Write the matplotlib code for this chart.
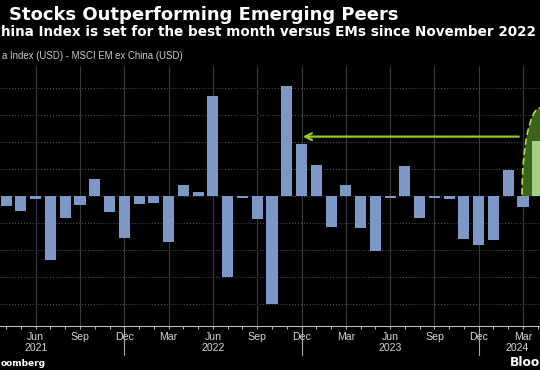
import matplotlib
matplotlib.use("Agg")
import matplotlib.pyplot as plt
import matplotlib.patches as patches
import matplotlib.transforms as mtransforms
import numpy as np
import pandas as pd

# MSCI China Index (USD) minus MSCI EM ex China (USD), monthly, %
months = pd.period_range("2021-04", "2024-03", freq="M")
spread = [-1.8, -2.7, -0.6, -11.8, -4.0, -1.7, 3.2, -2.9, -7.7, -1.4, -1.2, -8.5,
          2.1, 0.7, 18.5, -14.9, -0.4, -4.3, -20.0, 20.3, 9.6, 5.7, -5.8, 2.1,
          -6.0, -10.2, -0.3, 5.5, -4.1, -0.3, -0.6, -7.9, -9.0, -8.2, 4.9, -2.1]
current_month = pd.Period("2024-04", freq="M")
current_spread = 10.2
years = ["2021", "2022", "2023", "2024"]
year_pos = [2, 14, 26, 34.6]          # where each year label sits (bar index)
best_since_level = 11.0               # level of the "best since" arrow
best_since_idx = 19.9                 # arrow tip (Dec 2022 bar)

BAR = "#7d98c4"
LIGHT_GREEN = "#a3cf86"
DARK_GREEN = "#3a6419"
ARROW = "#96c828"
TXT = "#d6d6d6"

W, H = 540, 370
fig = plt.figure(figsize=(W / 100, H / 100), dpi=100, facecolor="black")
ax = fig.add_axes([0, (H - 325.7) / H, 1, (325.7 - 66.4) / H])
ax.set_facecolor("black")

x = np.arange(len(spread))
x_cur = len(spread)

# highlight behind current month
ell = patches.Ellipse((36.15, 0), 2.44, 32.6, facecolor=DARK_GREEN,
                      edgecolor="#b8d84a", ls=(0, (4, 2)), lw=1.2, zorder=2)
clip = patches.Rectangle((30, 0), 10, 40, transform=ax.transData)
ax.add_patch(ell)
ell.set_clip_path(clip)

ax.bar(x, spread, width=0.75, color=BAR, zorder=3)
ax.bar([x_cur], [current_spread], width=0.75, color=LIGHT_GREEN, zorder=3)

ax.annotate("", xy=(best_since_idx, best_since_level),
            xytext=(34.9, best_since_level),
            arrowprops=dict(arrowstyle="->", color=ARROW, lw=1.6,
                            mutation_scale=12), zorder=4)

ax.set_xlim(-0.418, 36.15)
ax.set_ylim(-24, 24)

# grid
for yv in range(-20, 25, 5):
    ax.axhline(yv, color="#5a5a5a", lw=0.7, ls=(0, (1, 2)), zorder=1)
major = [i for i, m in enumerate(months) if m.month in (3, 6, 9, 12)]
for i in major:
    ax.axvline(i, color="#3a3a3a", lw=0.8, zorder=1)

ax.set_xticks(major)
ax.set_xticklabels([months[i].strftime("%b") for i in major],
                   fontfamily="Liberation Sans", fontsize=7.6, color=TXT)
ax.set_xticks(np.arange(len(spread) + 1), minor=True)
ax.tick_params(axis="x", which="both", colors="#bbbbbb", length=2.5, width=0.7, pad=2)
for lab in ax.get_xticklabels():
    lab.set_color(TXT)
ax.set_yticks([])
for s in ["top", "left", "right"]:
    ax.spines[s].set_visible(False)
ax.spines["bottom"].set_color("#bbbbbb")
ax.spines["bottom"].set_linewidth(0.8)

# year separators and year labels
trans = mtransforms.blended_transform_factory(ax.transData, ax.transAxes)
axh = 325.7 - 66.4
for i, m in enumerate(months):
    if m.month == 12:
        ax.plot([i, i], [0, -(355 - 325.7) / axh], transform=trans,
                color="#aaaaaa", lw=0.8, clip_on=False)
for yr, xp in zip(years, year_pos):
    ax.text(xp, -(348 - 325.7) / axh, yr, transform=trans, ha="center", va="center",
            fontfamily="Liberation Sans", fontsize=7.6, color=TXT)


def fx(px):
    return px / W


def fy(py):
    return 1 - py / H


# texts as they show in the cropped picture
fig.text(fx(9), fy(19.5), "Stocks Outperforming Emerging Peers", ha="left",
         va="baseline", fontsize=13, fontweight="bold", color="white")
fig.text(fx(1), fy(36), "hina Index is set for the best month versus EMs since November 2022",
         ha="left", va="baseline", fontsize=9.75, fontweight="bold", color="white")
fig.text(fx(2), fy(59), "a Index (USD) - MSCI EM ex China (USD)",
         ha="left", va="baseline", fontfamily="Liberation Sans", fontsize=6.9,
         color="#cccccc")
fig.text(fx(1), fy(366), "oomberg", ha="left", va="baseline",
         fontsize=6.5, fontweight="bold", color="white")
fig.text(fx(510), fy(366), "Bloo", ha="left", va="baseline",
         fontsize=8.8, fontweight="bold", color="white")

fig.savefig("out.png", dpi=100, facecolor="black")
